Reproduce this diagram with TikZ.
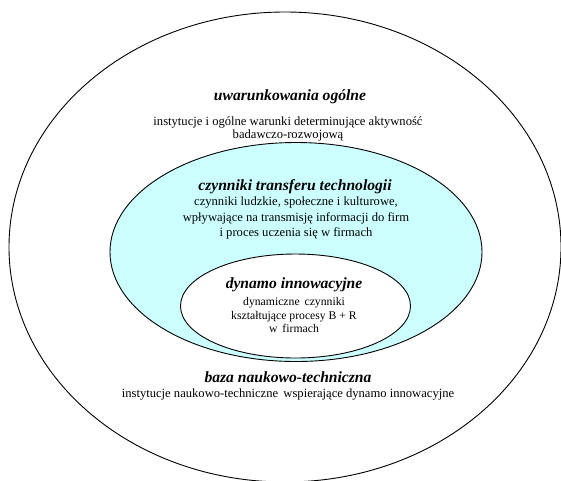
\documentclass[tikz,border=0pt]{standalone}
\usepackage{fontspec}
\setmainfont{Liberation Serif}
\usetikzlibrary{shapes.geometric}
\definecolor{lightcyan}{HTML}{CCFFFF}
\tikzset{
  ring/.style={ellipse, draw=black, line width=0.9pt, inner sep=0pt, outer sep=0pt},
  headtxt/.style={font=\fontsize{15.6}{17}\selectfont\bfseries\itshape, inner sep=0pt},
  bodytxt/.style={font=\fontsize{12.6}{13.2}\selectfont, align=center, inner sep=0pt},
}
\begin{document}
\begin{tikzpicture}[x=1pt,y=-1pt]
\useasboundingbox (0,0) rectangle (561,480);
\clip (0,0) rectangle (561,480);
\node[ring, fill=white, minimum width=552pt, minimum height=470pt] (outer) at (285,247) {};
\node[ring, fill=lightcyan, minimum width=372pt, minimum height=219pt] (mid) at (296,252) {};
\node[ring, fill=white, minimum width=230pt, minimum height=104pt] (inner) at (295.5,306) {};

\node[headtxt] (t1) at (290,97) {uwarunkowania ogólne};
\node[bodytxt] (b1) at (288,129) {instytucje i ogólne warunki determinujące aktywność\\badawczo-rozwojową};

\node[headtxt] (t2) at (295,187) {czynniki transferu technologii};
\node[bodytxt, font=\fontsize{12.6}{15.7}\selectfont] (b2) at (296,218) {czynniki ludzkie, społeczne i kulturowe,\\wpływające na transmisję informacji do firm\\i proces uczenia się w firmach};

\node[headtxt] (t3) at (294,284.5) {dynamo innowacyjne};
\node[bodytxt, font=\fontsize{11.7}{13.8}\selectfont] (b3) at (294,315) {dynamiczne\, czynniki\\kształtujące procesy B + R\\w\, firmach};

\node[headtxt] (t4) at (288,377.5) {baza naukowo-techniczna};
\node[bodytxt] (b4) at (288,394) {instytucje naukowo-techniczne\, wspierające dynamo innowacyjne};
\end{tikzpicture}
\end{document}
